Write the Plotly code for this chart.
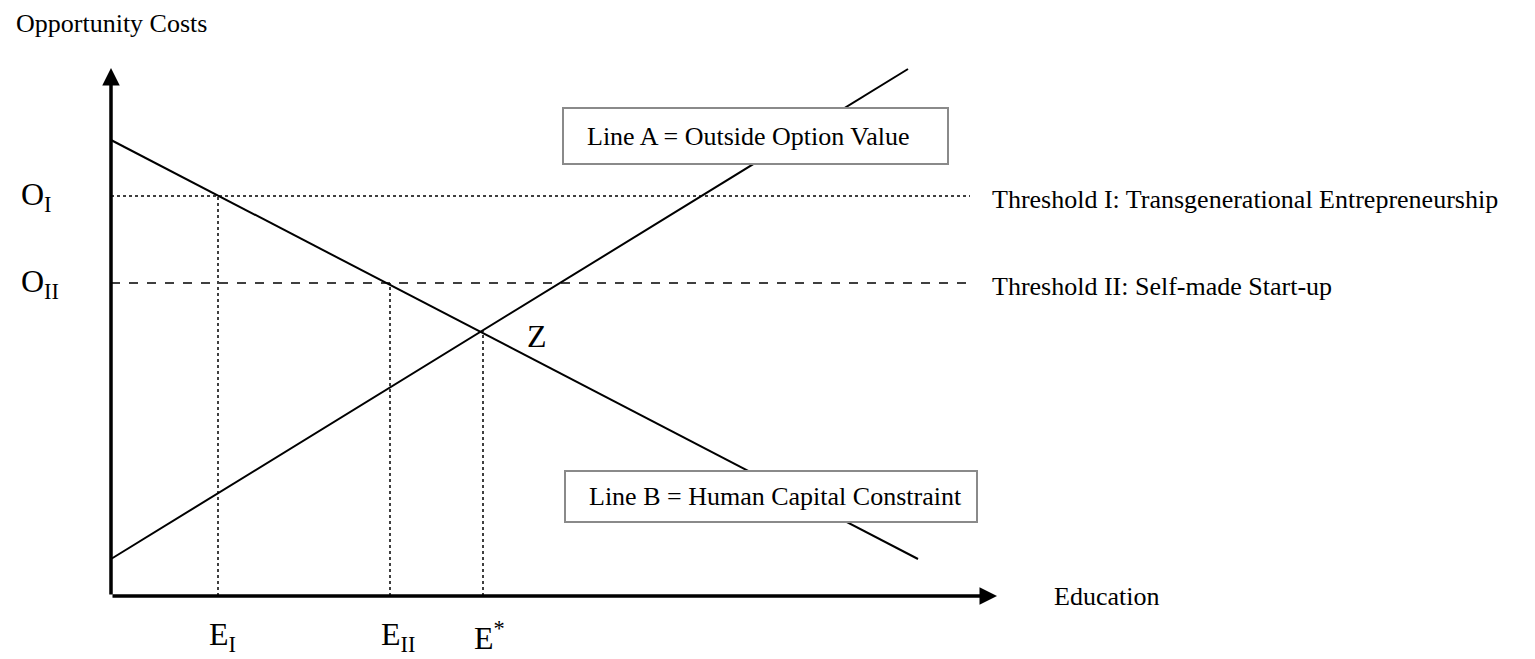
import plotly.graph_objects as go

# Diagram values (education on x, opportunity costs on y)
line_a_x = [0, 797]
line_a_y = [37, 527]
line_b_x = [0, 807]
line_b_y = [456, 37]
threshold_end = 859
threshold_values = [400, 313]          # O_I, O_II
threshold_labels = ["O<sub>I</sub>", "O<sub>II</sub>"]
threshold_names = ["Threshold I: Transgenerational Entrepreneurship",
                   "Threshold II: Self-made Start-up"]
threshold_dash = ["dot", "dash"]
education_values = [107, 279, 372]     # E_I, E_II, E*
education_labels = ["E<sub>I</sub>", "E<sub>II</sub>", "E<sup>*</sup>"]
drop_heights = [400, 313, 265]
z_point = (372, 265)
axis_x_end = 886
axis_y_end = 528

FONT = "Liberation Serif"

fig = go.Figure()

# Line A and Line B
for xs, ys in [(line_a_x, line_a_y), (line_b_x, line_b_y)]:
    fig.add_trace(go.Scatter(x=xs, y=ys, mode="lines", hoverinfo="skip",
                             line=dict(color="black", width=2)))

# Thresholds
for val, dash in zip(threshold_values, threshold_dash):
    fig.add_trace(go.Scatter(x=[0, threshold_end], y=[val, val], mode="lines", hoverinfo="skip",
                             line=dict(color="black", width=1.5, dash=dash)))

# Vertical drop lines
for ex, ey in zip(education_values, drop_heights):
    fig.add_trace(go.Scatter(x=[ex, ex], y=[0, ey], mode="lines", hoverinfo="skip",
                             line=dict(color="black", width=1.5, dash="dot")))

# Axes with arrows
for (x1, y1) in [(0, axis_y_end), (axis_x_end, 0)]:
    fig.add_annotation(x=x1, y=y1, ax=0, ay=0, xref="x", yref="y", axref="x", ayref="y",
                       showarrow=True, arrowhead=2, arrowwidth=3.5, arrowsize=1,
                       arrowcolor="black", text="")

# Boxes
boxes = [
    (452, 837, 432, 488, "Line A = Outside Option Value"),
    (454, 866, 74, 125, "Line B = Human Capital Constraint"),
]
for x0, x1, y0, y1, label in boxes:
    fig.add_shape(type="rect", x0=x0, x1=x1, y0=y0, y1=y1, xref="x", yref="y",
                  fillcolor="white", line=dict(color="#8a8a8a", width=2), layer="above")
    fig.add_annotation(x=x0 + 22, y=(y0 + y1) / 2, text=label, showarrow=False,
                       xanchor="left", font=dict(family=FONT, size=26, color="black"))

def label(x, y, t, size, anchor="left"):
    fig.add_annotation(x=x, y=y, text=t, showarrow=False, xanchor=anchor,
                       font=dict(family=FONT, size=size, color="black"))

label(-97, 573, "Opportunity Costs", 26)
for val, lab, name in zip(threshold_values, threshold_labels, threshold_names):
    label(-92, val, lab, 32)
    label(879, val - 3, name, 26)
label(z_point[0] + 54, z_point[1] - 5, "Z", 32, "center")
label(941, 0, "Education", 26)
for ex, lab in zip(education_values, education_labels):
    label(ex - 11, -40, lab, 32)

fig.update_xaxes(range=[-103, 1424], visible=False)
fig.update_yaxes(range=[-63, 588], visible=False)
fig.update_layout(width=1527, height=651, margin=dict(l=0, r=0, t=0, b=0),
                  plot_bgcolor="white", paper_bgcolor="white", showlegend=False)

fig.write_html("out.html")
